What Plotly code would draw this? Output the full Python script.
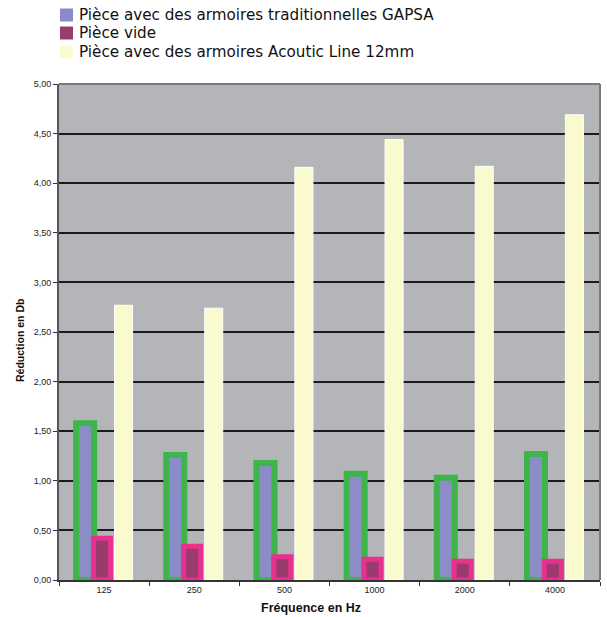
import plotly.graph_objects as go

# Frequency bands (Hz) and sound reduction (dB) per room configuration
frequences = ["125", "250", "500", "1000", "2000", "4000"]
gapsa = [1.58, 1.26, 1.18, 1.07, 1.03, 1.27]
vide = [0.42, 0.34, 0.235, 0.21, 0.19, 0.19]
acoustic = [2.77, 2.74, 4.16, 4.44, 4.17, 4.69]

noms = [
    "Pièce avec des armoires traditionnelles GAPSA",
    "Pièce vide",
    "Pièce avec des armoires Acoutic Line 12mm",
]

GRIS = "#b3b5b8"
VERT = "#3db54a"
BLEU = "#8c8cc6"
ROSE = "#e8308f"
MAGENTA = "#9a3b6e"
JAUNE = "#fafacf"

fig = go.Figure()

fig.add_trace(go.Bar(
    x=frequences, y=gapsa, name=noms[0], showlegend=False,
    width=0.2, offset=-0.31,
    marker=dict(color=BLEU, line=dict(color=VERT, width=6)),
))
fig.add_trace(go.Bar(
    x=frequences, y=vide, name=noms[1], showlegend=False,
    width=0.19, offset=-0.118,
    marker=dict(color=MAGENTA, line=dict(color=ROSE, width=5)),
))
fig.add_trace(go.Bar(
    x=frequences, y=acoustic, name=noms[2], showlegend=False,
    width=0.2, offset=0.116,
    marker=dict(color=JAUNE, line=dict(color="#ffffff", width=1)),
))

# Legend drawn as swatches + labels above the plot
legende_couleurs = ["#8a8ac8", "#9a3b6e", "#fafacf"]
legende_y = [15, 33, 52]
for nom, coul, yy in zip(noms, legende_couleurs, legende_y):
    fig.add_shape(
        type="rect", xref="paper", yref="paper",
        x0=(60 - 59) / 541, x1=(73 - 59) / 541,
        y0=(580 - (yy + 6.5)) / 496, y1=(580 - (yy - 6.5)) / 496,
        fillcolor=coul, line=dict(width=0),
    )
    fig.add_annotation(
        text=nom, xref="paper", yref="paper",
        x=(77 - 59) / 541, y=(580 - yy) / 496,
        xanchor="left", yanchor="middle", showarrow=False,
        font=dict(family="DejaVu Sans", size=15.2, color="#111111"),
    )

# Axis titles
fig.add_annotation(
    text="<b>Fréquence en Hz</b>", xref="paper", yref="paper",
    x=(311 - 59) / 541, y=(580 - 608) / 496,
    xanchor="center", yanchor="middle", showarrow=False,
    font=dict(family="Liberation Sans, Arial", size=12.5, color="#111111"),
)
fig.add_annotation(
    text="<b>Réduction en Db</b>", xref="paper", yref="paper",
    x=(20 - 59) / 541, y=(580 - 341) / 496,
    xanchor="center", yanchor="middle", showarrow=False, textangle=-90,
    font=dict(family="Liberation Sans, Arial", size=10.5, color="#111111"),
)

fig.update_layout(
    width=607, height=617,
    margin=dict(l=59, r=7, t=84, b=37),
    paper_bgcolor="#ffffff",
    plot_bgcolor=GRIS,
    barmode="overlay",
    separators=", ",
    showlegend=False,
    font=dict(family="Liberation Sans, Arial", size=9, color="#222222"),
)

fig.update_xaxes(
    type="category",
    tickson="boundaries",
    ticks="outside", ticklen=4, tickcolor="#333333",
    showline=True, linecolor="#333333", linewidth=2,
    showgrid=False,
    tickfont=dict(size=9, color="#222222"),
)
fig.update_yaxes(
    range=[0, 5],
    dtick=0.5,
    tickformat=".2f",
    ticks="outside", ticklen=4, tickcolor="#333333",
    showline=True, linecolor="#555555", linewidth=2,
    showgrid=True, gridcolor="#1a1a1a", gridwidth=1.5,
    zeroline=False,
    tickfont=dict(size=9, color="#222222"),
)

# Plot-area frame on the top and right sides
fig.add_shape(type="line", xref="paper", yref="paper", x0=0, x1=1, y0=1, y1=1,
              line=dict(color="#7a7a7a", width=2))
fig.add_shape(type="line", xref="paper", yref="paper", x0=1, x1=1, y0=0, y1=1,
              line=dict(color="#7a7a7a", width=2))

fig.write_html("out.html")
